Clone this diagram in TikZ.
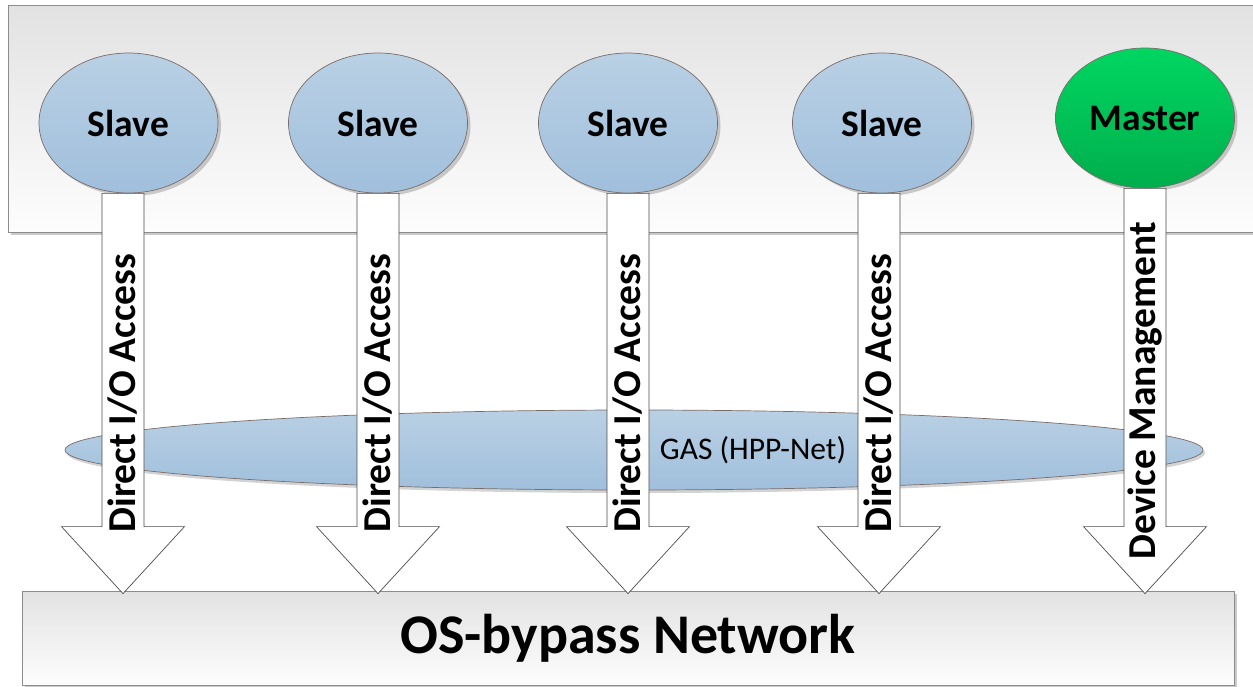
\documentclass[tikz,border=0pt]{standalone}
\usepackage{fontspec}
\setmainfont{Carlito}
\usetikzlibrary{shapes.geometric,shadows,calc}
\definecolor{slavetop}{HTML}{B9D0E4}
\definecolor{slavebot}{HTML}{A0BFDC}
\definecolor{mastertop}{HTML}{00D661}
\definecolor{masterbot}{HTML}{00AE4C}
\definecolor{boxtop}{HTML}{E2E2E2}
\definecolor{boxbot}{HTML}{FDFDFD}
\definecolor{boxline}{HTML}{8C8C8C}
\definecolor{ellline}{HTML}{7A6C68}
\tikzset{
  panel/.style={draw=boxline, line width=0.8pt, top color=boxtop, bottom color=boxbot,
    drop shadow={shadow xshift=3pt, shadow yshift=-3pt, opacity=0.35, fill=black!60}},
  proc/.style={ellipse, draw=ellline, line width=0.7pt, minimum width=179pt, minimum height=140pt,
    inner sep=0pt, font=\fontsize{37.5}{40}\selectfont\bfseries,
    drop shadow={shadow xshift=3pt, shadow yshift=-3pt, opacity=0.4, fill=black!50}},
  slavenode/.style={proc, top color=slavetop, bottom color=slavebot},
  masternode/.style={proc, top color=mastertop, bottom color=masterbot},
  gasnode/.style={ellipse, draw=ellline, line width=0.7pt, minimum width=1138pt, minimum height=80pt,
    inner sep=0pt, top color=slavetop, bottom color=slavebot,
    drop shadow={shadow xshift=2pt, shadow yshift=-3pt, opacity=0.35, fill=black!50}},
  fatarrow/.style={fill=white, draw=black!70, line width=0.7pt, line join=miter},
  arrowtext/.style={rotate=90, inner sep=0pt, font=\fontsize{39.5}{40}\selectfont\bfseries},
}
\newcommand\fatarr[4]{% source node, xshift, label node name, text
  \draw[fatarrow] let \p1=($(#1.south)+(#2,0)$), \p2=(net.north) in
    (\x1-21,\y1) -- (\x1-21,\y2+64) -- (\x1-61.5,\y2+64) -- (\x1,\y2-3)
    -- (\x1+61.5,\y2+64) -- (\x1+21,\y2+64) -- (\x1+21,\y1) -- cycle;
  \path let \p1=($(#1.south)+(#2,0)$), \p2=(net.north) in
    node[arrowtext] (#3) at (\x1,{(\y1+\y2)/2-1}) {#4};
}
\begin{document}
\begin{tikzpicture}[x=1pt,y=1pt]
\useasboundingbox (0,0) rectangle (1253,-686);
% top panel
\path[panel] (8,-5) rectangle (1275,-232);
% bottom network box
\node[panel, minimum width=1212pt, minimum height=94pt, inner sep=0pt,
  font=\fontsize{56}{60}\selectfont\bfseries] (net) at (628,-638) {OS-bypass Network};
% GAS ellipse
\node[gasnode] (gas) at (634,-450) {};
\node[inner sep=0pt, font=\fontsize{31.5}{34}\selectfont] (gaslabel) at (753,-450) {GAS (HPP-Net)};
% process nodes
\node[slavenode] (s1) at (128.5,-123) {Slave};
\node[slavenode] (s2) at (378,-123) {Slave};
\node[slavenode] (s3) at (628,-123) {Slave};
\node[slavenode] (s4) at (882,-123) {Slave};
\node[masternode] (m) at (1145,-118) {Master};
% arrows
\fatarr{s1}{-5.5}{t1}{Direct I/O Access}
\fatarr{s2}{0}{t2}{Direct I/O Access}
\fatarr{s3}{0}{t3}{Direct I/O Access}
\fatarr{s4}{-3}{t4}{Direct I/O Access}
\fatarr{m}{0}{t5}{Device Management}
\end{tikzpicture}
\end{document}
